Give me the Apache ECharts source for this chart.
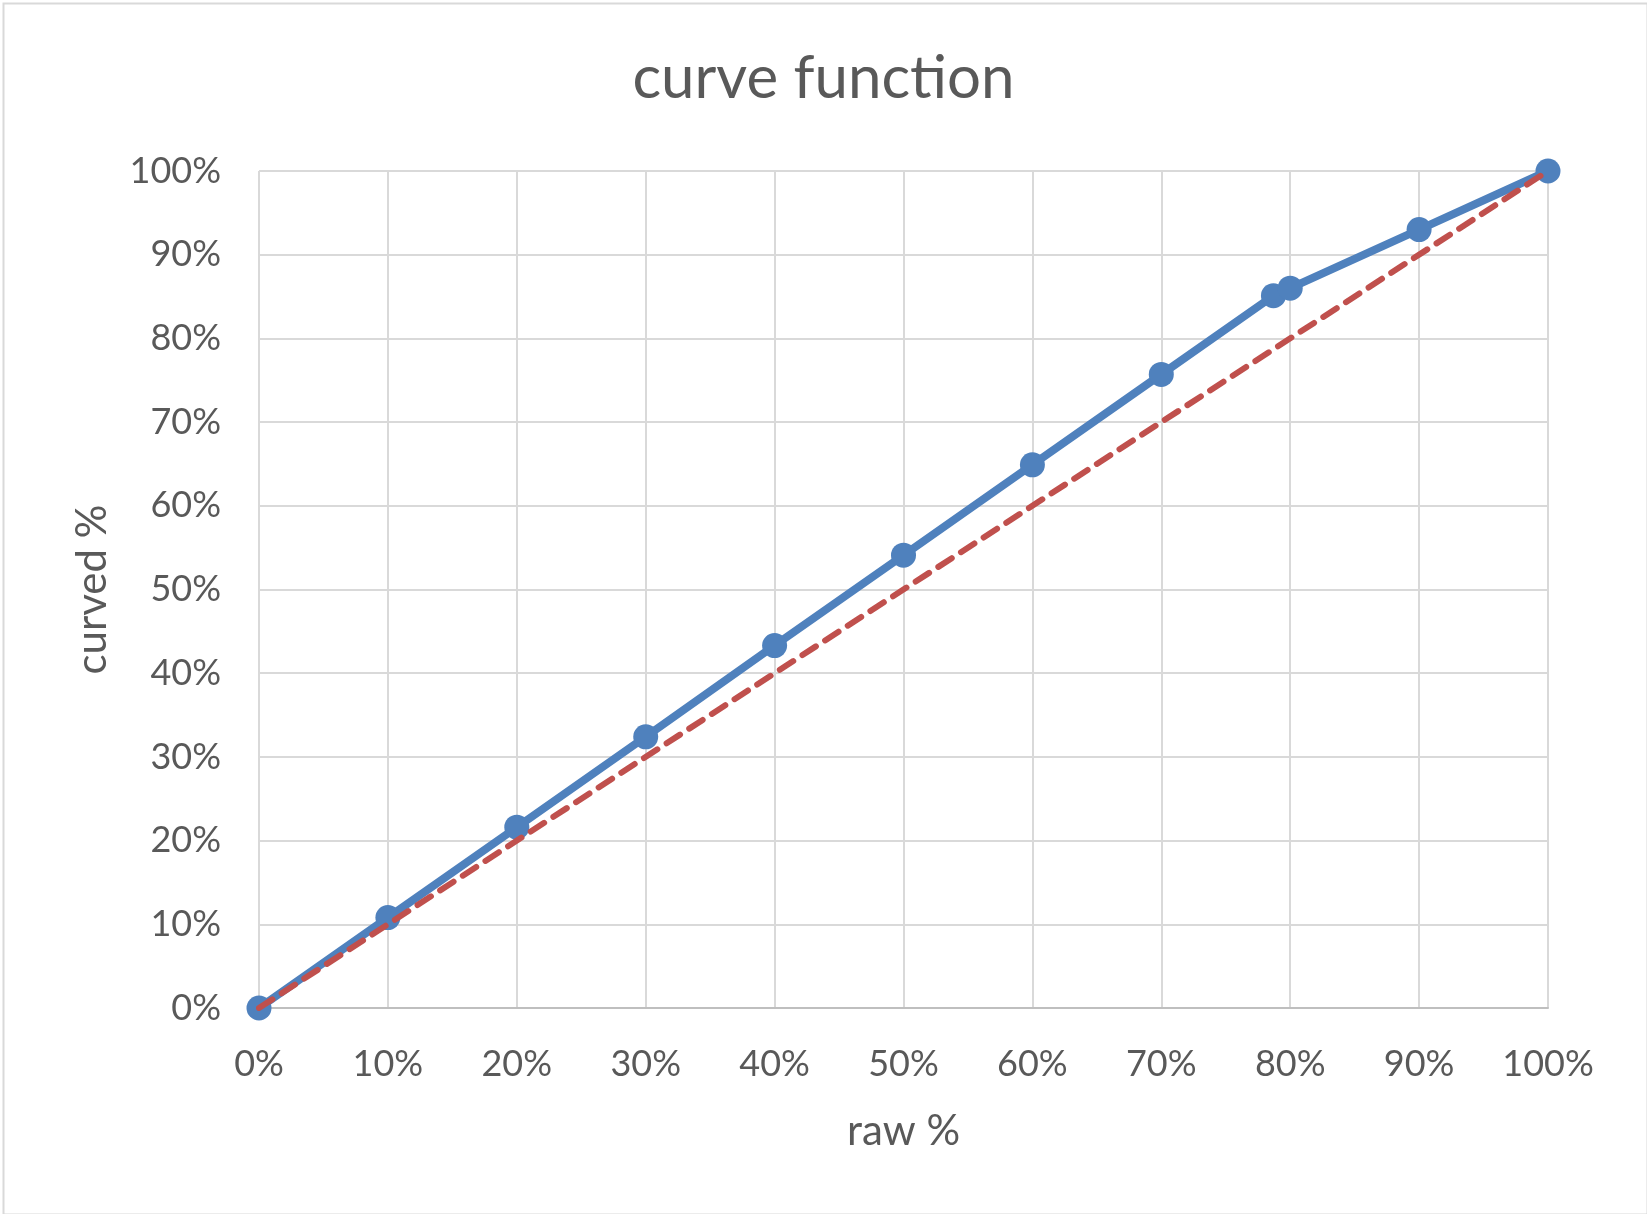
<!DOCTYPE html>
<html>
<head>
<meta charset="utf-8">
<title>curve function</title>
<script src="https://cdn.jsdelivr.net/npm/echarts@6/dist/echarts.min.js"></script>
<style>
    html, body { margin: 0; padding: 0; background: #fff; }
    #chart { width: 1647px; height: 1214px; }
</style>
</head>
<body>
<div id="chart"></div>
<script>
// raw % on x, curved % on y
const rawPct = [0, 10, 20, 30, 40, 50, 60, 70, 78.7, 80, 90, 100];
const curvedPct = [0, 10.8, 21.6, 32.4, 43.3, 54.1, 64.9, 75.7, 85.1, 86.0, 93.0, 100];

// reference diagonal (no curve)
const diagX = [0, 100];
const diagY = [0, 100];

const textColor = '#595959';
const fontFamily = 'Lato, "Open Sans", sans-serif';

function initCurveChart() {
    const chartDom = document.getElementById('chart');
    const myChart = echarts.init(chartDom, null, { renderer: 'canvas' });

    const option = {
        backgroundColor: '#fff',
        animation: false,
        title: {
            text: 'curve function',
            left: 'center',
            top: 44,
            textStyle: {
                fontFamily: fontFamily,
                fontSize: 60,
                fontWeight: 'normal',
                color: textColor
            }
        },
        grid: {
            left: 259,
            right: 99,
            top: 171,
            bottom: 206
        },
        xAxis: {
            type: 'value',
            min: 0,
            max: 100,
            interval: 10,
            name: 'raw %',
            nameLocation: 'middle',
            nameGap: 102,
            nameTextStyle: {
                fontFamily: fontFamily,
                fontSize: 42,
                color: textColor
            },
            axisLine: { show: true, lineStyle: { color: '#bfbfbf', width: 2 } },
            axisTick: { show: false },
            splitLine: { show: true, lineStyle: { color: '#d9d9d9', width: 2 } },
            axisLabel: {
                formatter: '{value}%',
                margin: 38,
                fontFamily: fontFamily,
                fontSize: 36,
                color: textColor
            }
        },
        yAxis: {
            type: 'value',
            min: 0,
            max: 100,
            interval: 10,
            name: 'curved %',
            nameLocation: 'middle',
            nameGap: 146,
            nameTextStyle: {
                fontFamily: fontFamily,
                fontSize: 42,
                color: textColor
            },
            axisLine: { show: false },
            axisTick: { show: false },
            splitLine: { show: true, lineStyle: { color: '#d9d9d9', width: 2 } },
            axisLabel: {
                formatter: '{value}%',
                margin: 38,
                fontFamily: fontFamily,
                fontSize: 36,
                color: textColor
            }
        },
        series: [
            {
                name: 'curved',
                type: 'line',
                data: rawPct.map((x, i) => [x, curvedPct[i]]),
                symbol: 'circle',
                symbolSize: 25,
                lineStyle: { color: '#4f81bd', width: 8 },
                itemStyle: { color: '#4f81bd' },
                z: 2
            },
            {
                name: 'linear',
                type: 'line',
                data: diagX.map((x, i) => [x, diagY[i]]),
                symbol: 'none',
                lineStyle: {
                    color: '#c0504d',
                    width: 6,
                    type: [16, 11],
                    cap: 'round'
                },
                z: 3
            }
        ],
        graphic: [
            {
                type: 'rect',
                left: 1,
                top: 1,
                shape: { width: 1644, height: 1211 },
                style: { fill: 'none', stroke: '#d9d9d9', lineWidth: 2 },
                silent: true
            }
        ]
    };

    myChart.setOption(option);
    return myChart;
}

initCurveChart();
</script>
</body>
</html>
